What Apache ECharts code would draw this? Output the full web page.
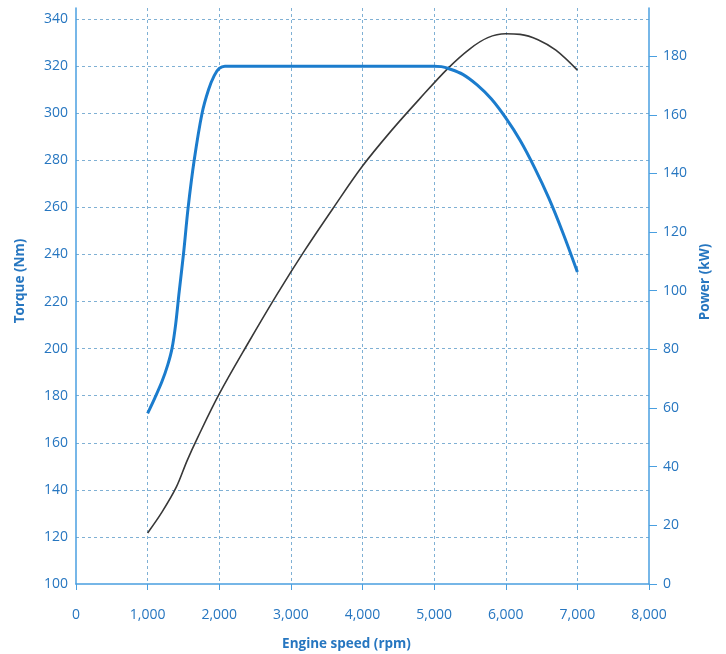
<!DOCTYPE html>
<html>
<head>
<meta charset="utf-8">
<script src="https://cdn.jsdelivr.net/npm/echarts@6/dist/echarts.min.js"></script>
<style>
  html, body { margin: 0; padding: 0; background: #ffffff; }
  #chart { width: 726px; height: 654px; }
</style>
</head>
<body>
<div id="chart"></div>
<script>
// Engine speed (rpm) values for torque curve and torque (Nm)
const torqueRpm = [1000, 1100, 1200, 1280, 1340, 1390, 1440, 1500, 1566, 1650, 1760, 1850, 1930, 2000, 2080, 5000, 5100, 5200, 5400, 5600, 5800, 6000, 6200, 6400, 6600, 6800, 7000];
const torqueNm  = [172.5, 179, 186, 193, 200, 210, 224, 240, 260, 280, 300, 310, 316, 319, 320, 320, 319.8, 319, 316.5, 312, 306, 298, 288.5, 277, 264, 249, 232.5];

// Engine speed (rpm) values for power curve and power (kW)
const powerRpm = [1000, 1200, 1400, 1550, 1700, 2000, 2400, 2800, 3200, 3600, 4000, 4400, 4800, 5200, 5500, 5750, 6000, 6200, 6450, 6700, 7000];
const powerKw  = [17.4, 24.5, 33, 42, 50, 64.8, 82, 98.5, 114, 128.5, 142.5, 154.5, 165.5, 176, 182.5, 186.3, 187.6, 187.4, 185.6, 182, 175.2];

// Tick labels
const rpmTicks    = [0, 1000, 2000, 3000, 4000, 5000, 6000, 7000, 8000];
const torqueTicks = [100, 120, 140, 160, 180, 200, 220, 240, 260, 280, 300, 320, 340];
const powerTicks  = [0, 20, 40, 60, 80, 100, 120, 140, 160, 180];

const AXIS = '#4a9fe0';
const LABEL = '#2676c0';
const GRID = '#7fb0d4';
const FONT = 'Open Sans';

const chart = echarts.init(document.getElementById('chart'), null, { renderer: 'canvas' });

chart.setOption({
  backgroundColor: '#ffffff',
  animation: false,
  grid: { left: 76, right: 77, top: 8, bottom: 70, containLabel: false, outerBoundsMode: 'none' },
  xAxis: {
    type: 'value',
    min: rpmTicks[0],
    max: rpmTicks[rpmTicks.length - 1],
    interval: 1000,
    name: 'Engine speed (rpm)',
    nameLocation: 'middle',
    nameGap: 53,
    nameTextStyle: { color: LABEL, fontWeight: 'bold', fontSize: 13.5, fontFamily: FONT, padding: [0, 32, 0, 0] },
    axisLine: { show: true, lineStyle: { color: AXIS, width: 1.5 } },
    axisTick: { show: true, inside: false, length: 6, lineStyle: { color: AXIS, width: 1 } },
    axisLabel: {
      color: LABEL, fontSize: 14, fontFamily: FONT, margin: 24,
      formatter: v => Number(v).toLocaleString('en-US')
    },
    splitLine: { show: true, showMinLine: false, showMaxLine: false, lineStyle: { color: GRID, type: [3, 3], width: 1 } }
  },
  yAxis: [
    {
      type: 'value',
      position: 'left',
      min: 100,
      max: 344.7,
      interval: 20,
      name: 'Torque (Nm)',
      nameLocation: 'middle',
      nameGap: 49,
      nameRotate: 90,
      nameTextStyle: { color: LABEL, fontWeight: 'bold', fontSize: 13.5, fontFamily: FONT, padding: [0, 0, 0, 30] },
      axisLine: { show: true, lineStyle: { color: AXIS, width: 1.5 } },
      axisTick: { show: false },
      axisLabel: { color: LABEL, fontSize: 14, fontFamily: FONT, margin: 8, customValues: torqueTicks },
      splitLine: { show: true, showMinLine: false, showMaxLine: false, lineStyle: { color: GRID, type: [3, 3], width: 1 } }
    },
    {
      type: 'value',
      position: 'right',
      min: 0,
      max: 196.4,
      interval: 20,
      name: 'Power (kW)',
      nameLocation: 'middle',
      nameGap: 48,
      nameRotate: 90,
      nameTextStyle: { color: LABEL, fontWeight: 'bold', fontSize: 13.5, fontFamily: FONT, padding: [0, 0, 0, 28] },
      axisLine: { show: true, lineStyle: { color: AXIS, width: 1.5 } },
      axisTick: { show: true, inside: false, length: 8, lineStyle: { color: AXIS, width: 1 }, customValues: powerTicks },
      axisLabel: { color: LABEL, fontSize: 14, fontFamily: FONT, margin: 14, customValues: powerTicks },
      splitLine: { show: false }
    }
  ],
  series: [
    {
      name: 'Power',
      type: 'line',
      yAxisIndex: 1,
      data: powerRpm.map((r, i) => [r, powerKw[i]]),
      showSymbol: false,
      smooth: 0.35,
      lineStyle: { color: '#383838', width: 1.6 },
      z: 3
    },
    {
      name: 'Torque',
      type: 'line',
      yAxisIndex: 0,
      data: torqueRpm.map((r, i) => [r, torqueNm[i]]),
      showSymbol: false,
      smooth: 0.35,
      lineStyle: { color: '#1b7ccd', width: 3 },
      z: 4
    }
  ]
});
</script>
</body>
</html>
